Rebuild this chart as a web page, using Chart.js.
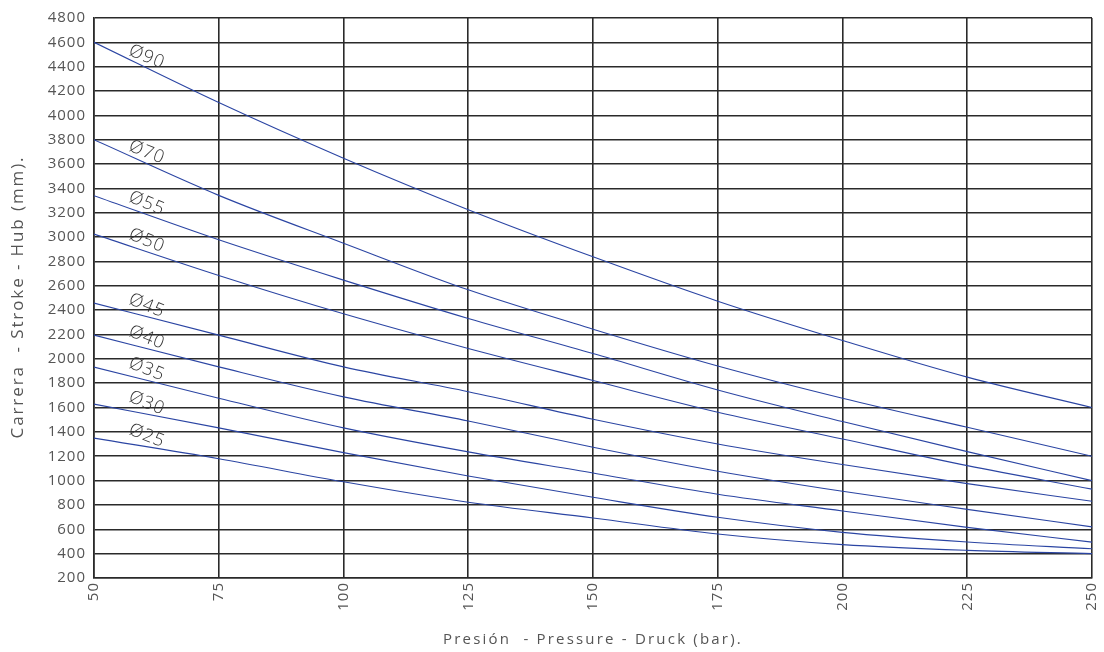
<!DOCTYPE html>
<html>
<head>
<meta charset="utf-8">
<script src="https://cdn.jsdelivr.net/npm/chart.js@4"></script>
<style>
  html, body { margin: 0; padding: 0; background: #fff; }
  #wrap { width: 1104px; height: 652px; }
</style>
</head>
<body>
<div id="wrap"><canvas id="stroke_chart" width="1104" height="652"></canvas></div>
<script>
// pressure (bar) on x, stroke (mm) on y, one curve per rod diameter
var pressures = [50, 75, 100, 125, 150, 175, 200, 225, 250];

var d90 = [4600, 4105, 3648, 3225, 2838, 2474, 2151, 1850, 1600];
var d70 = [3800, 3343, 2950, 2567, 2244, 1942, 1677, 1438, 1200];
var d55 = [3340, 2978, 2647, 2332, 2044, 1745, 1485, 1238, 1000];
var d50 = [3025, 2685, 2370, 2085, 1822, 1562, 1342, 1123, 930];
var d45 = [2458, 2195, 1934, 1730, 1504, 1301, 1132, 975, 830];
var d40 = [2195, 1934, 1688, 1490, 1274, 1077, 912, 764, 620];
var d35 = [1932, 1677, 1433, 1236, 1063, 888, 751, 616, 495];
var d30 = [1628, 1433, 1230, 1038, 863, 699, 575, 496, 440];
var d25 = [1349, 1180, 990, 822, 693, 562, 474, 427, 400];

var seriesNames = ['Ø90', 'Ø70', 'Ø55', 'Ø50', 'Ø45', 'Ø40', 'Ø35', 'Ø30', 'Ø25'];
var seriesValues = [d90, d70, d55, d50, d45, d40, d35, d30, d25];

var xTitle = 'Presión  - Pressure - Druck (bar).';
var yTitle = 'Carrera  - Stroke - Hub (mm).';

var lineColor = '#2b45a3';
var gridColor = '#2a2a2a';
var textColor = '#555';
var fontFamily = '"Open Sans", Lato, sans-serif';

const datasets = seriesNames.map(function (name, i) {
  return {
    label: name,
    data: pressures.map(function (p, j) { return { x: p, y: seriesValues[i][j] }; }),
    borderColor: lineColor,
    borderWidth: 1.1,
    pointRadius: 0,
    fill: false,
    cubicInterpolationMode: 'monotone'
  };
});

// the original uses a wide, spaced-out type; canvas letterSpacing gets close
const spacedText = {
  id: 'spacedText',
  beforeDraw(chart) {
    chart.ctx.letterSpacing = '1px';
  }
};

// axis titles drawn by hand so they can be spaced wider than the ticks
const axisTitles = {
  id: 'axisTitles',
  afterDraw(chart) {
    const ctx = chart.ctx;
    const area = chart.chartArea;
    ctx.save();
    ctx.fillStyle = textColor;
    ctx.textAlign = 'center';
    ctx.textBaseline = 'middle';
    ctx.letterSpacing = '2.2px';
    ctx.font = '15px ' + fontFamily;
    ctx.fillText(xTitle, (area.left + area.right) / 2, 640);
    ctx.letterSpacing = '1.9px';
    ctx.font = '17px ' + fontFamily;
    ctx.translate(18, 297);
    ctx.rotate(-Math.PI / 2);
    ctx.fillText(yTitle, 0, 0);
    ctx.restore();
  }
};

// writes the diameter names just above the start of each curve
const curveLabels = {
  id: 'curveLabels',
  afterDatasetsDraw(chart) {
    const ctx = chart.ctx;
    const xs = chart.scales.x;
    const ys = chart.scales.y;
    ctx.save();
    ctx.font = '300 18px ' + fontFamily;
    ctx.fillStyle = '#333';
    ctx.textAlign = 'center';
    ctx.textBaseline = 'middle';
    seriesValues.forEach(function (vals, i) {
      var px = 60.6;
      var t = (px - pressures[0]) / (pressures[1] - pressures[0]);
      var v = vals[0] + (vals[1] - vals[0]) * t;
      var x = xs.getPixelForValue(px);
      var y = ys.getPixelForValue(v) - 11;
      ctx.save();
      ctx.translate(x, y);
      ctx.rotate(0.38);
      ctx.fillText(seriesNames[i], 0, 0);
      ctx.restore();
    });
    ctx.restore();
  }
};

const config = {
  type: 'line',
  data: { datasets: datasets },
  options: {
    responsive: false,
    animation: false,
    layout: { padding: { left: 0, top: 18, right: 12, bottom: 0 } },
    plugins: {
      legend: { display: false },
      tooltip: { enabled: false }
    },
    scales: {
      x: {
        type: 'linear',
        min: 50,
        max: 250,
        afterFit: function (scale) {
          scale.height = 74;
          scale.paddingLeft = 0;
          scale.paddingRight = 0;
        },
        ticks: {
          stepSize: 25,
          minRotation: 90,
          maxRotation: 90,
          padding: 4,
          color: textColor,
          font: { family: fontFamily, size: 15 }
        },
        grid: { color: gridColor, lineWidth: 1.6, drawTicks: false },
        border: { color: gridColor, width: 1.6 }
      },
      y: {
        min: 200,
        max: 4800,
        afterFit: function (scale) {
          scale.width = 94;
          scale.paddingTop = 0;
          scale.paddingBottom = 0;
        },
        ticks: {
          stepSize: 200,
          padding: 8,
          color: textColor,
          font: { family: fontFamily, size: 15 },
          callback: function (v) { return String(v); }
        },
        grid: { color: gridColor, lineWidth: 1.6, drawTicks: false },
        border: { color: gridColor, width: 1.6 }
      }
    }
  },
  plugins: [spacedText, axisTitles, curveLabels]
};

var strokeChart = new Chart(document.getElementById('stroke_chart'), config);
</script>
</body>
</html>
